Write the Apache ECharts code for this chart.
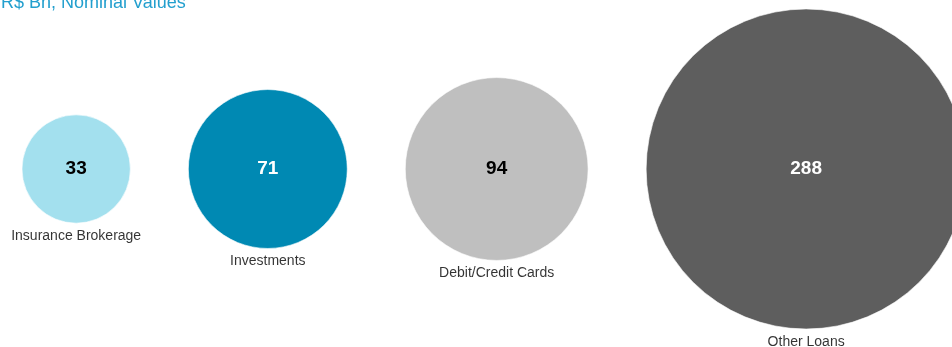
<!DOCTYPE html>
<html>
<head>
<meta charset="utf-8">
<script src="https://cdn.jsdelivr.net/npm/echarts@6/dist/echarts.min.js"></script>
<style>
html,body{margin:0;padding:0;background:#fff;}
#chart{width:952px;height:347px;}
</style>
</head>
<body>
<div id="chart"></div>
<script>
// ---- data ----
const titleText = 'R$ Bn, Nominal Values';
const categories = ['Insurance Brokerage', 'Investments', 'Debit/Credit Cards', 'Other Loans'];
const values = [33, 71, 94, 288];

// ---- styles ----
const colors = ['#a3e0ee', '#0089b3', '#bfbfbf', '#5e5e5e'];
const valueColors = ['#000000', '#ffffff', '#000000', '#ffffff'];
const fontFam = '"Liberation Sans", Arial, sans-serif';
const sizeScale = 18.86;   // diameter = k * sqrt(value) (bubble area ~ value)
const leftPad = 22;        // left edge of first bubble
const gap = 58;            // space between bubbles

const diam = values.map(v => sizeScale * Math.sqrt(v));
// pack bubbles left to right
const xs = [];
let cursor = leftPad;
diam.forEach((d, i) => {
  xs.push(cursor + d / 2);
  cursor += d + gap;
});

const bubbleData = values.map((v, i) => ({
  value: [xs[i], 0, v],
  name: categories[i],
  itemStyle: { color: colors[i] },
  label: { color: valueColors[i] }
}));

const chart = echarts.init(document.getElementById('chart'));
chart.setOption({
  animation: false,
  backgroundColor: '#ffffff',
  title: {
    text: titleText,
    left: -4,
    top: -11,
    textStyle: { color: '#229fce', fontSize: 18, fontWeight: 'normal', fontFamily: fontFam }
  },
  grid: { left: 0, right: 0, top: 0, height: 338, containLabel: false },
  xAxis: { type: 'value', min: 0, max: 952, show: false },
  yAxis: { type: 'value', min: -1, max: 1, show: false },
  series: [
    {
      type: 'scatter',
      data: bubbleData,
      symbolSize: d => sizeScale * Math.sqrt(d[2]),
      itemStyle: { opacity: 1, borderColor: 'rgba(255,255,255,0.6)', borderWidth: 1 },
      label: {
        show: true,
        position: 'inside',
        formatter: p => p.value[2],
        fontSize: 19,
        fontWeight: 'bold',
        fontFamily: fontFam
      },
      z: 2
    },
    {
      type: 'scatter',
      data: values.map((v, i) => ({ value: [xs[i], 0, v], name: categories[i] })),
      symbolSize: d => sizeScale * Math.sqrt(d[2]),
      itemStyle: { color: 'rgba(0,0,0,0)' },
      label: {
        show: true,
        position: 'bottom',
        distance: 6,
        formatter: p => p.name,
        color: '#000000',
        fontSize: 14,
        fontFamily: fontFam
      },
      silent: true,
      z: 3
    }
  ]
});
</script>
</body>
</html>
